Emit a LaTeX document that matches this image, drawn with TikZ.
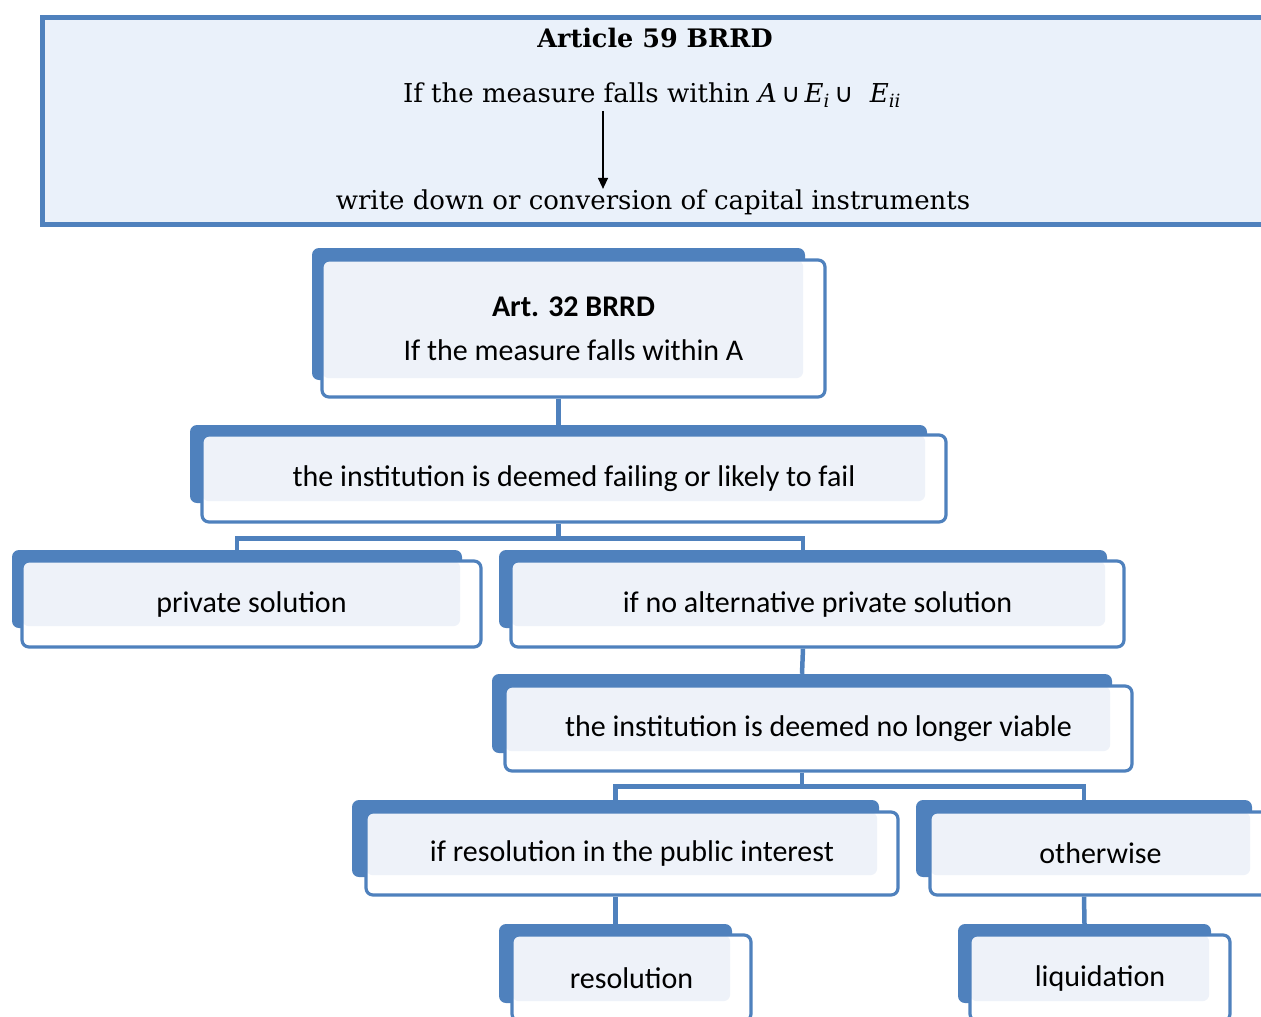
\documentclass[tikz,border=0pt]{standalone}
\usepackage{fontspec}
\setmainfont{DejaVu Serif}
\newfontfamily\boxfont{Carlito}
\newfontfamily\cupfont{DejaVu Sans}
\usepackage{tikz}
\usetikzlibrary{arrows.meta,calc}
\usepackage{xcolor}
\definecolor{smblue}{HTML}{4F81BD}
\definecolor{palefill}{HTML}{EEF2F9}
\definecolor{topfill}{HTML}{EAF1FA}

\begin{document}
\begin{tikzpicture}[x=1pt,y=-1pt,
  back/.style={fill=smblue, rounded corners=7pt, inner sep=0pt},
  front/.style={draw=smblue, line width=3.2pt, fill=white, rounded corners=7pt,
    font=\boxfont\fontsize{30}{36}\selectfont, align=center,
    path picture={\fill[palefill] (path picture bounding box.north west)
      rectangle ([xshift=-2pt,yshift=2pt]#1.south east);}},
  link/.style={draw=smblue, line width=4.5pt}]

\useasboundingbox (0,0) rectangle (1261,1017);

% Article 59 frame
\draw[smblue, line width=5pt, fill=topfill] (42,17) rectangle (1290,224);
\node[font=\fontsize{25.5}{30}\selectfont\bfseries] (art59) at (655,38) {Article 59 BRRD};
\node[font=\fontsize{26}{30}\selectfont] (cond) at (652,95)
  {If the measure falls within \textit{A}\,{\cupfont ∪}\,\textit{E}\textsubscript{\textit{i}}\,{\cupfont ∪}\ \ \textit{E}\textsubscript{\textit{ii}}};
\node[font=\fontsize{26}{30}\selectfont] (wdown) at (653,202) {write down or conversion of capital instruments};
\draw[line width=1.3pt, -{Triangle[width=10pt,length=11pt]}] ([xshift=-49pt]cond.south) -- ([xshift=-49pt,yshift=-3pt]cond.south |- wdown.north);

% boxes
\node[back, minimum width=493pt, minimum height=132pt] (art32) at (558.5,314) {};
\node[front=art32, minimum width=503pt, minimum height=137pt] (art32f) at (573.5,328.5)
  {\textbf{Art. 32 BRRD}\\[8pt] If the measure falls within A};

\node[back, minimum width=737pt, minimum height=78pt] (failing) at (558.5,464) {};
\node[front=failing, minimum width=744pt, minimum height=87pt] (failingf) at (574,478.5)
  {the institution is deemed failing or likely to fail};

\node[back, minimum width=450pt, minimum height=78pt] (private) at (237,589) {};
\node[front=private, minimum width=459pt, minimum height=86pt] (privatef) at (251.5,604)
  {private solution};

\node[back, minimum width=608pt, minimum height=78pt] (noalt) at (803,589) {};
\node[front=noalt, minimum width=613pt, minimum height=86pt] (noaltf) at (817.5,604)
  {if no alternative private solution};

\node[back, minimum width=620pt, minimum height=79pt] (viable) at (802,713.5) {};
\node[front=viable, minimum width=627pt, minimum height=85pt] (viablef) at (818.5,728.5)
  {the institution is deemed no longer viable};

\node[back, minimum width=527pt, minimum height=77pt] (public) at (615.5,838.5) {};
\node[front=public, minimum width=532pt, minimum height=83pt] (publicf) at (632,853.5)
  {if resolution in the public interest};

\node[back, minimum width=336pt, minimum height=77pt] (otherwise) at (1084,838.5) {};
\node[front=otherwise, minimum width=341pt, minimum height=83pt] (otherwisef) at (1100.5,853.5)
  {otherwise};

\node[back, minimum width=233pt, minimum height=79pt] (resol) at (615.5,963.5) {};
\node[front=resol, minimum width=239pt, minimum height=86pt] (resolf) at (631.5,978)
  {resolution};

\node[back, minimum width=253pt, minimum height=79pt] (liquid) at (1084.5,963.5) {};
\node[front=liquid, minimum width=260pt, minimum height=86pt] (liquidf) at (1100,978)
  {liquidation};

% connectors
\draw[link] (art32.south |- art32f.south) -- (failing.north);
\draw[link] (failing.south |- failingf.south) -- ++(0,15) -| (private.north);
\draw[link] (failing.south |- failingf.south) -- ++(0,15) -| (noalt.north);
\draw[link] (noalt.south |- noaltf.south) -- (viable.north);
\draw[link] (viable.south |- viablef.south) -- ++(0,14) -| (public.north);
\draw[link] (viable.south |- viablef.south) -- ++(0,14) -| (otherwise.north);
\draw[link] (public.south |- publicf.south) -- (resol.north);
\draw[link] (otherwise.south |- otherwisef.south) -- (liquid.north);

\end{tikzpicture}
\end{document}
